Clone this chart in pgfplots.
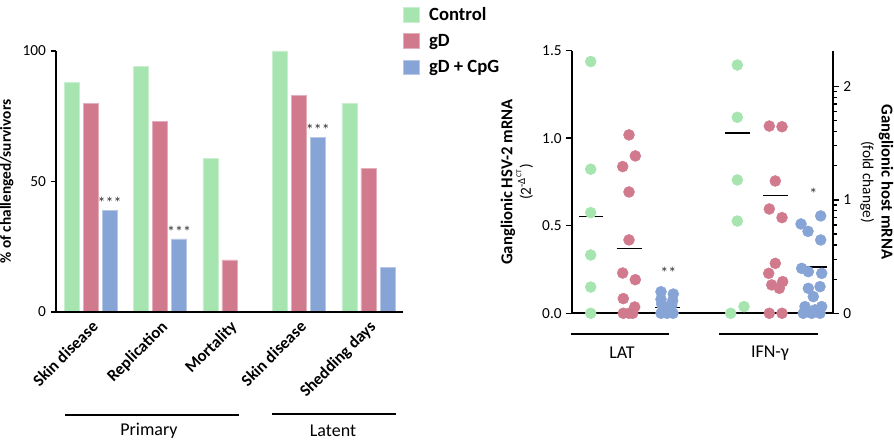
\documentclass[border=0pt]{standalone}
\usepackage{fontspec}
\setmainfont{Carlito}
\usepackage{pgfplots}
\pgfplotsset{compat=1.18}
\definecolor{cgreen}{RGB}{166,228,176}
\definecolor{cred}{RGB}{209,122,141}
\definecolor{cblue}{RGB}{134,164,214}
\begin{document}
\begin{tikzpicture}
\useasboundingbox (0,0) rectangle (670.5pt,331.5pt);
% ---------------- left bar chart ----------------
\begin{axis}[
  at={(42pt,97.5pt)}, anchor=south west, scale only axis,
  width=260.25pt, height=195.75pt,
  xmin=-0.5, xmax=4.5, ymin=0, ymax=100,
  axis x line=bottom, axis y line=left,
  axis line style={line width=1.3pt,-},
  axis on top,
  ytick={0,50,100}, xtick={0,1,2,3,4},
  xticklabels={Skin disease,Replication,Mortality,Skin disease,Shedding days},
  x tick label style={rotate=45, anchor=north east, font=\bfseries\fontsize{12.5}{14}\selectfont, inner sep=1pt},
  y tick label style={font=\fontsize{11.5}{13}\selectfont},
  /pgf/number format/assume math mode=true,
  tick align=outside, major tick length=4pt,
  x tick style={draw=none},
  y tick style={line width=1.1pt, black},
  ylabel={\bfseries\% of challenged/survivors},
  ylabel style={font=\fontsize{11.5}{13}\selectfont},
  ybar, bar width=11.25pt,
  legend cell align=left,
  legend style={at={(1.0,1.18)}, anchor=north west, draw=none, fill=none, inner sep=0pt, row sep=5pt, font=\bfseries\fontsize{14}{16}\selectfont,
    /tikz/every odd column/.append style={column sep=5pt}},
  legend image code/.code={\fill[#1] (0pt,-5.6pt) rectangle (12pt,5.6pt);},
]
\addplot[fill=cgreen, draw=cgreen!60!white, bar shift=-14.25pt] coordinates {(0,88) (1,94) (2,59) (3,100) (4,80)};
\addplot[fill=cred, draw=cred!60!white, bar shift=0pt] coordinates {(0,80) (1,73) (2,20) (3,83) (4,55)};
\addplot[fill=cblue, draw=cblue!60!white, bar shift=14.25pt, nodes near coords, point meta=explicit symbolic,
  every node near coord/.append style={font=\fontsize{12}{12}\selectfont, text=black!80, anchor=south, inner sep=1pt}]
  coordinates {(0,39)[***] (1,28)[***] (3,67)[***]};
\addplot[fill=cblue, draw=cblue!60!white, bar shift=14.25pt, forget plot] coordinates {(4,17)};
\legend{Control, gD, gD + CpG}
\end{axis}
\draw[line width=0.9pt] (48.75pt,20.25pt) -- (179.25pt,20.25pt);
\node[font=\fontsize{13.5}{15}\selectfont] at (111.75pt,8.25pt) {Primary};
\draw[line width=0.9pt] (204pt,21pt) -- (297pt,21pt);
\node[font=\fontsize{13.5}{15}\selectfont] at (249.75pt,8.25pt) {Latent};
% ---------------- right dot chart, left axis (LAT) ----------------
\begin{axis}[
  at={(428.775pt,96.525pt)}, anchor=south west, scale only axis,
  width=196.2pt, height=196.95pt,
  xmin=571.7, xmax=833.3, ymin=0, ymax=1.5,
  axis x line=bottom, axis y line=left,
  axis line style={line width=1.3pt,-},
  xtick=\empty, ytick={0,0.5,1,1.5},
  yticklabel style={/pgf/number format/fixed, /pgf/number format/fixed zerofill, /pgf/number format/precision=1},
  y tick label style={font=\fontsize{11.5}{13}\selectfont},
  /pgf/number format/assume math mode=true,
  tick align=outside, major tick length=4pt,
  y tick style={line width=1.1pt, black},
  ylabel={{\bfseries\fontsize{12.5}{14}\selectfont Ganglionic HSV-2 mRNA}\\(2\textsuperscript{-Δ\textsuperscript{CT}})},
  ylabel style={font=\fontsize{11.5}{14}\selectfont, align=center},
  clip=false,
]
\addplot[only marks, mark=*, mark size=4.1pt, cgreen, mark options={solid, fill=cgreen, draw=cgreen}] coordinates {
 (590.7,1.438) (590.7,0.823) (590.7,0.575) (590.7,0.333) (590.7,0.150) (590.7,0)};
\addplot[only marks, mark=*, mark size=4.1pt, cred, mark options={solid, fill=cred, draw=cred}] coordinates {
 (629,1.019) (635.3,0.899) (622.7,0.838) (629,0.693) (629,0.419) (622.7,0.230) (635.3,0.192)
 (623.3,0.084) (634.7,0.036) (623.3,0) (629,0) (632.7,0)};
\addplot[only marks, mark=*, mark size=4.1pt, cblue, mark options={solid, fill=cblue, draw=cblue}] coordinates {
 (661,0.123) (673.3,0.110) (661,0.080) (672.7,0.072) (661.7,0.053) (671.7,0.047) (663.3,0.023)
 (670,0.019) (661,0) (667,0) (673,0) (664,0.005) (670,0.005) (667,0.03)};
\addplot[black, line width=0.8pt, no marks] coordinates {(579.3,0.552) (602.7,0.552)};
\addplot[black, line width=0.8pt, no marks] coordinates {(616.7,0.368) (641.7,0.368)};
\addplot[black, line width=0.8pt, no marks] coordinates {(655,0.032) (680,0.032)};
\node[font=\fontsize{12}{12}\selectfont, text=black!80] at (axis cs:668.3,0.234) {**};
\end{axis}
% ---------------- right dot chart, right axis (IFN-gamma) ----------------
\begin{axis}[
  at={(428.775pt,96.525pt)}, anchor=south west, scale only axis,
  width=196.2pt, height=196.95pt,
  xmin=571.7, xmax=833.3, ymin=0, ymax=2.314,
  axis x line=none, axis y line=right,
  axis line style={line width=1.3pt,-},
  xtick=\empty, ytick={0,1,2},
  minor ytick={0.301,0.477,0.602,0.699,0.778,0.845,0.903,0.954,1.301,1.477,1.602,1.699,1.778,1.845,1.903,1.954},
  y tick label style={font=\fontsize{11.5}{13}\selectfont},
  /pgf/number format/assume math mode=true,
  tick align=outside, major tick length=4pt, minor tick length=2.5pt,
  y tick style={line width=1.1pt, black},
  minor y tick style={line width=0.9pt, black},
  ylabel={{\bfseries\fontsize{12.5}{14}\selectfont Ganglionic host mRNA}\\(fold change)},
  ylabel style={font=\fontsize{11.5}{14}\selectfont, align=center, rotate=180},
  clip=false,
]
\addplot[only marks, mark=*, mark size=4.1pt, cgreen, mark options={solid, fill=cgreen, draw=cgreen}] coordinates {
 (737.3,2.188) (737.3,1.727) (737.3,1.175) (737.3,0.813) (730.7,0) (744,0.059)};
\addplot[only marks, mark=*, mark size=4.1pt, cred, mark options={solid, fill=cred, draw=cred}] coordinates {
 (769.3,1.650) (782,1.644) (775.3,1.166) (769.3,0.919) (782,0.843) (775.3,0.44) (768.7,0.352)
 (782.7,0.279) (771.7,0.25) (779.3,0.22) (769.3,0) (782,0)};
\addplot[only marks, mark=*, mark size=4.1pt, cblue, mark options={solid, fill=cblue, draw=cblue}] coordinates {
 (801,0.787) (808,0.722) (820.7,0.858) (820.7,0.646) (801.7,0.396) (808.3,0.367) (821.7,0.352)
 (808.3,0.22) (820,0.235) (813.3,0.147) (805,0.059) (821.7,0.059) (803.3,0) (811.7,0) (820,0) (815,0.03)};
\addplot[black, line width=1.3pt, no marks] coordinates {(725,1.586) (750,1.586)};
\addplot[black, line width=1.3pt, no marks] coordinates {(763,1.037) (788,1.037)};
\addplot[black, line width=1.3pt, no marks] coordinates {(801.7,0.405) (826.7,0.405)};
\node[font=\fontsize{12}{12}\selectfont, text=black!80] at (axis cs:813.3,1.057) {*};
\end{axis}
\draw[line width=1.1pt] (428.25pt,81pt) -- (501.75pt,81pt);
\node[font=\fontsize{13.5}{15}\selectfont] at (466.5pt,66.75pt) {LAT};
\draw[line width=1.1pt] (539.25pt,81pt) -- (613.5pt,81pt);
\node[font=\fontsize{13.5}{15}\selectfont] at (577.5pt,66.75pt) {IFN-γ};
\end{tikzpicture}
\end{document}
